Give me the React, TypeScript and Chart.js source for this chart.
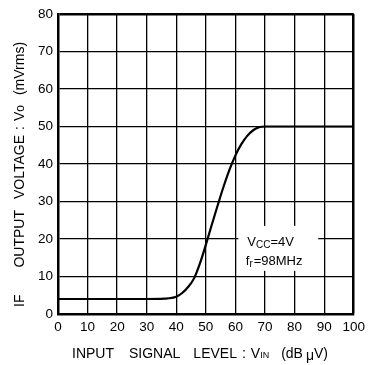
import React, { useEffect, useRef } from "react";
import { Chart, registerables } from "chart.js";

Chart.register(...registerables);

// Input signal level (dBµV)
const inputLevel = [0, 10, 20, 30, 36, 40, 42, 44, 46, 48, 50, 52, 54, 56, 58, 60, 62, 64, 66, 68, 70, 75, 80, 90, 100];
// IF output voltage Vo (mVrms)
const outputVoltage = [4, 4, 4, 4, 4.1, 4.6, 5.6, 7.2, 9.5, 13.5, 18.5, 23.8, 29, 34, 38.5, 42.3, 45.3, 47.5, 49, 49.8, 50, 50, 50, 50, 50];

const xTicks = [0, 10, 20, 30, 40, 50, 60, 70, 80, 90, 100];
const yTicks = [0, 10, 20, 30, 40, 50, 60, 70, 80];

const FONT = '"Liberation Sans", Arial, sans-serif';

type Seg = { t: string; size?: number; dy?: number; gap?: number };

const yTitle: Seg[] = [
  { t: "IF", gap: 27 },
  { t: "OUTPUT", gap: 11 },
  { t: "VOLTAGE", gap: 5 },
  { t: ":", gap: 5 },
  { t: "V" },
  { t: "o", size: 12, dy: 1, gap: 10 },
  { t: "(mVrms)" },
];

const xTitle: Seg[] = [
  { t: "INPUT", gap: 15 },
  { t: "SIGNAL", gap: 13 },
  { t: "LEVEL", gap: 5 },
  { t: ":", gap: 5 },
  { t: "V" },
  { t: "IN", size: 9, dy: 2, gap: 12 },
  { t: "(dB", gap: 3 },
  { t: "\u03bc", dy: 2 },
  { t: "V)" },
];

const noteLine1: Seg[] = [{ t: "V" }, { t: "CC", size: 10, dy: 2 }, { t: "=4V" }];
const noteLine2: Seg[] = [{ t: "f" }, { t: "r", size: 10, dy: 2, gap: 1 }, { t: "=98MHz" }];

function drawSegs(ctx: CanvasRenderingContext2D, segs: Seg[], x: number, y: number, base: number) {
  let cx = x;
  for (const s of segs) {
    ctx.font = `${s.size ?? base}px ${FONT}`;
    ctx.fillText(s.t, cx, y + (s.dy ?? 0));
    cx += ctx.measureText(s.t).width + (s.gap ?? 0);
  }
}

const customText = {
  id: "customText",
  afterDatasetsDraw(chart: any) {
    const ctx: CanvasRenderingContext2D = chart.ctx;
    const area = chart.chartArea;
    const xs = chart.scales.x;
    const ys = chart.scales.y;
    ctx.save();
    ctx.fillStyle = "#000";
    ctx.textBaseline = "middle";
    ctx.textAlign = "left";

    // annotation box
    const bx0 = xs.getPixelForValue(61);
    const bx1 = xs.getPixelForValue(88);
    const by0 = ys.getPixelForValue(23.5);
    const by1 = ys.getPixelForValue(11.5);
    ctx.fillStyle = "#fff";
    ctx.fillRect(bx0, by0, bx1 - bx0, by1 - by0);
    ctx.fillStyle = "#000";
    drawSegs(ctx, noteLine1, xs.getPixelForValue(64), ys.getPixelForValue(19), 13);
    drawSegs(ctx, noteLine2, xs.getPixelForValue(63.5), ys.getPixelForValue(13.9), 13);

    // x title
    drawSegs(ctx, xTitle, area.left + 14, 354, 14);

    // y title (rotated)
    ctx.translate(20, area.bottom - 7);
    ctx.rotate(-Math.PI / 2);
    drawSegs(ctx, yTitle, 0, 0, 14);
    ctx.restore();
  },
};

export default function App() {
  const ref = useRef<HTMLCanvasElement | null>(null);
  useEffect(() => {
    if (!ref.current) return;
    const chart = new Chart(ref.current, {
      type: "line",
      data: {
        datasets: [
          {
            data: inputLevel.map((x, i) => ({ x, y: outputVoltage[i] })),
            borderColor: "#000",
            borderWidth: 2.2,
            pointRadius: 0,
            fill: false,
            cubicInterpolationMode: "monotone",
          },
        ],
      },
      options: {
        responsive: false,
        animation: false,
        layout: { padding: { left: 0, right: 12, top: 14, bottom: 0 } },
        plugins: { legend: { display: false }, tooltip: { enabled: false } },
        scales: {
          x: {
            type: "linear",
            min: 0,
            max: 100,
            afterBuildTicks: (s: any) => {
              s.ticks = xTicks.map((v) => ({ value: v }));
            },
            afterFit: (s: any) => {
              s.height = 51;
            },
            grid: {
              color: "#000",
              lineWidth: (c: any) => (c.tick && c.tick.value === 100 ? 2.5 : 1.3),
              drawTicks: false,
            },
            border: { display: true, color: "#000", width: 2.5 },
            ticks: {
              color: "#000",
              padding: 5,
              maxRotation: 0,
              autoSkip: false,
              font: { family: FONT, size: 13.5 },
            },
          },
          y: {
            type: "linear",
            min: 0,
            max: 80,
            afterBuildTicks: (s: any) => {
              s.ticks = yTicks.map((v) => ({ value: v }));
            },
            afterFit: (s: any) => {
              s.width = 58;
            },
            grid: {
              color: "#000",
              lineWidth: (c: any) => (c.tick && c.tick.value === 80 ? 2.5 : 1.3),
              drawTicks: false,
            },
            border: { display: true, color: "#000", width: 2.5 },
            ticks: {
              color: "#000",
              padding: 5,
              autoSkip: false,
              font: { family: FONT, size: 13.5 },
            },
          },
        },
      },
      plugins: [customText],
    } as any);
    return () => chart.destroy();
  }, []);
  return (
    <div style={{ position: "absolute", left: 0, top: 0, width: 370, height: 365, background: "#fff" }}>
      <canvas ref={ref} width={370} height={365} />
    </div>
  );
}
